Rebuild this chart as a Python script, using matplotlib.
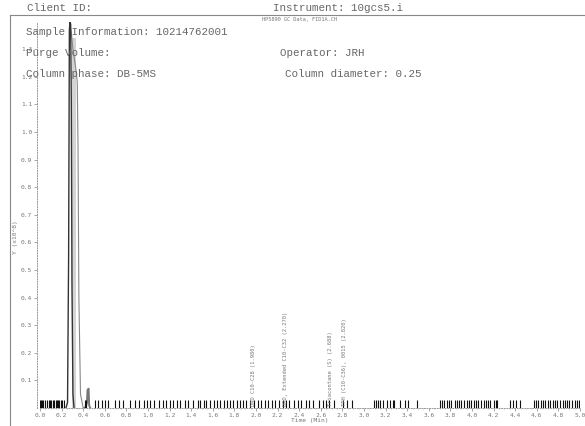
import numpy as np
import matplotlib
matplotlib.use("Agg")
import matplotlib.pyplot as plt
from matplotlib.lines import Line2D

# ---- data -------------------------------------------------------------
# main solvent peak traces (time in min, signal in 1e8 units)
peak_a_t = [0.24, 0.255, 0.265, 0.272, 0.278, 0.284, 0.29, 0.296, 0.305, 0.315]
peak_a_y = [0.0, 0.02, 0.55, 1.37, 1.40, 1.39, 1.10, 0.45, 0.05, 0.0]
peak_b_t = [0.278, 0.29, 0.305, 0.32, 0.335, 0.345, 0.352, 0.36, 0.375, 0.40]
peak_b_y = [1.39, 1.36, 1.30, 1.26, 1.22, 1.18, 0.95, 0.40, 0.05, 0.0]
band_t = [0.30, 0.33]
band_top = 1.34
small_t = [0.41, 0.425, 0.435, 0.44, 0.45, 0.455, 0.465]
small_y = [0.0, 0.005, 0.02, 0.065, 0.07, 0.01, 0.0]

# integration event marks along the baseline
event_t = [
    0.00, 0.012, 0.022, 0.032, 0.05, 0.062, 0.08, 0.09, 0.10,
    0.118, 0.13, 0.145, 0.16, 0.17, 0.18, 0.195, 0.205, 0.22,
    0.42, 0.43, 0.51, 0.54, 0.57, 0.60, 0.63, 0.69, 0.73, 0.77, 0.83, 0.88,
    0.92, 0.96, 0.99, 1.02, 1.06, 1.10, 1.14, 1.17, 1.20, 1.23, 1.27, 1.30,
    1.34, 1.37, 1.42, 1.46, 1.48, 1.52, 1.54, 1.57, 1.61, 1.64, 1.67, 1.70,
    1.73, 1.76, 1.79, 1.82, 1.85, 1.88, 1.91, 1.94, 1.98, 2.02, 2.05, 2.08,
    2.11, 2.15, 2.18, 2.21, 2.25, 2.28, 2.31, 2.35, 2.39, 2.42, 2.46, 2.49,
    2.53, 2.58, 2.62, 2.65, 2.68, 2.72, 2.81, 2.84, 2.89, 3.09, 3.11, 3.13,
    3.15, 3.18, 3.21, 3.24, 3.27, 3.28, 3.33, 3.38, 3.41, 3.49,
    3.70, 3.72, 3.745, 3.77, 3.79, 3.81, 3.84, 3.86, 3.88, 3.90, 3.925,
    3.95, 3.97, 3.99, 4.02, 4.04, 4.06, 4.085, 4.11, 4.13, 4.15, 4.17,
    4.20, 4.22, 4.23, 4.35, 4.38, 4.41, 4.44,
    4.57, 4.59, 4.615, 4.64, 4.66, 4.68, 4.70, 4.725, 4.75, 4.77, 4.79,
    4.815, 4.84, 4.86, 4.88, 4.90, 4.925, 4.95, 4.97, 4.99,
]

# named retention windows
label_t = [1.980, 2.270, 2.688, 2.820]
label_txt = [
    "DRO C10-C28 (1.980)",
    "DRO, Extended C10-C32 (2.270)",
    "Triacontane (S) (2.688)",
    "TPH (C10-C36), 0015 (2.820)",
]

x_ticks = [round(0.2 * i, 1) for i in range(26)]
y_ticks = [round(0.1 * i, 1) for i in range(1, 14)]

# ---- figure -----------------------------------------------------------
W, H = 585, 426
fig = plt.figure(figsize=(W / 100, H / 100), dpi=100)

mono = "Liberation Mono"
txt_col = "#666666"
small = dict(family="DejaVu Sans Mono", color="#777777")

ax = fig.add_axes([40 / W, (H - 408) / H, 540 / W, 386.4 / H])
ax.set_xlim(0, 5.0)
ax.set_ylim(0, 1.4)

# peaks
ax.fill_between(band_t, 0, band_top, color="#d4d4d4", lw=0)
ax.plot(peak_b_t, peak_b_y, color="#888888", lw=0.8)
ax.plot(peak_a_t, peak_a_y, color="#333333", lw=1.0)
ax.plot(small_t, small_y, color="#777777", lw=1.4)

# event marks
ax.vlines(event_t, 0, 0.03, colors="#111111", lw=0.8)

for t, s in zip(label_t, label_txt):
    ax.text(t, 0.008, s, rotation=90, ha="center", va="bottom",
            fontsize=3.9, **small)

# axes styling
for side in ["top", "right"]:
    ax.spines[side].set_visible(False)
for side in ["left", "bottom"]:
    ax.spines[side].set_linestyle(":")
    ax.spines[side].set_color("#999999")
    ax.spines[side].set_linewidth(0.7)
ax.spines["left"].set_position(("outward", 2))

ax.set_xticks(x_ticks)
ax.set_xticklabels([f"{v:.1f}" for v in x_ticks])
ax.set_xticks(np.arange(0, 5.01, 0.05), minor=True)
ax.set_yticks(y_ticks)
ax.set_yticklabels([f"{v:.1f}" for v in y_ticks])
ax.tick_params(axis="both", which="major", labelsize=4.5, labelcolor="#777777",
               color="#999999", length=2, width=0.6, pad=1.5)
ax.tick_params(axis="x", which="minor", length=1, width=0.5, color="#aaaaaa")
for lab in ax.get_xticklabels() + ax.get_yticklabels():
    lab.set_family("DejaVu Sans Mono")

ax.set_xlabel("Time (Min)", fontsize=4.5, color="#777777",
              family="DejaVu Sans Mono", labelpad=0)
fig.text(15 / W, 1 - 237 / H, "Y (x10^8)", rotation=90, ha="center",
         va="center", fontsize=4.5, **small)
fig.text(300 / W, 1 - 19 / H, "HP5890 GC Data, FID1A.CH", ha="center",
         va="center", fontsize=3.8, **small)

# outer frame
fig.add_artist(Line2D([10 / W, 1], [1 - 15 / H, 1 - 15 / H],
                      transform=fig.transFigure, color="#888888", lw=0.8))
fig.add_artist(Line2D([10 / W, 10 / W], [0, 1 - 15 / H],
                      transform=fig.transFigure, color="#888888", lw=0.8))

# header text
hdr = dict(family=mono, fontsize=7.8, color=txt_col, va="center", ha="left")
fig.text(27 / W, 1 - 8 / H, "Client ID:", **hdr)
fig.text(273 / W, 1 - 8 / H, "Instrument: 10gcs5.i", **hdr)
fig.text(26 / W, 1 - 32 / H, "Sample Information: 10214762001", **hdr)
fig.text(26 / W, 1 - 53 / H, "Purge Volume:", **hdr)
fig.text(280 / W, 1 - 53 / H, "Operator: JRH", **hdr)
fig.text(26 / W, 1 - 74 / H, "Column phase: DB-5MS", **hdr)
fig.text(285 / W, 1 - 74 / H, "Column diameter: 0.25", **hdr)

fig.savefig("out.png", dpi=100)
